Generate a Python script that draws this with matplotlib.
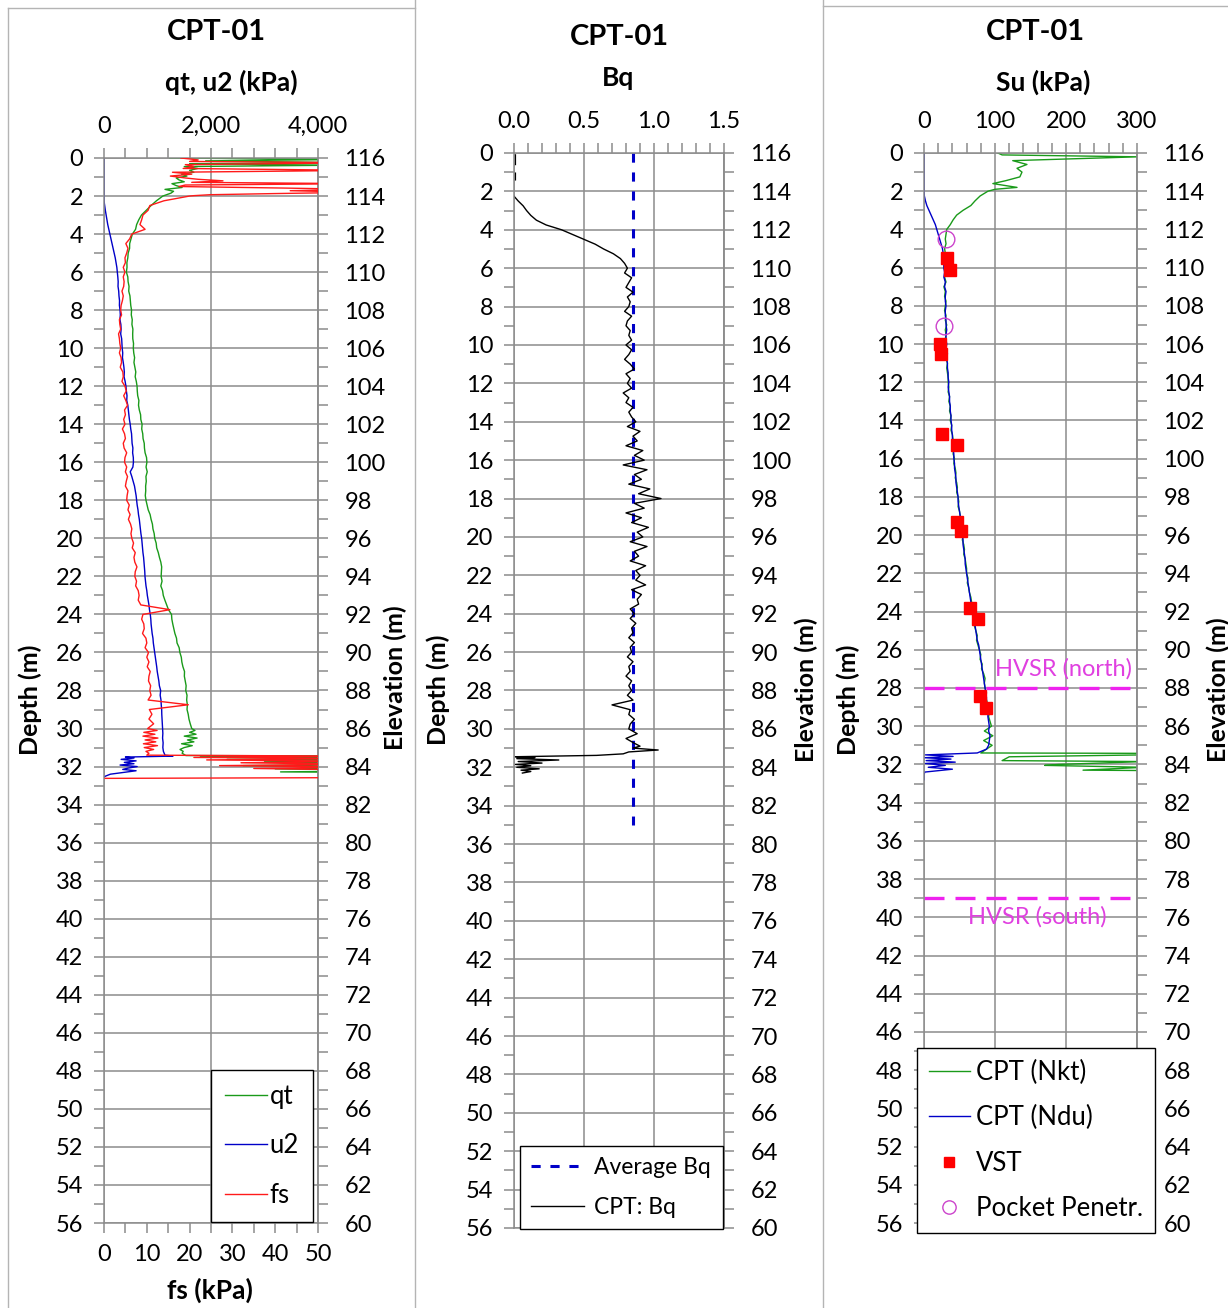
import numpy as np
import matplotlib
matplotlib.use("Agg")
import matplotlib.pyplot as plt
from matplotlib.ticker import MultipleLocator, FuncFormatter
from matplotlib.lines import Line2D

plt.rcParams['font.family'] = ['Lato', 'DejaVu Sans']

W, H = 1228, 1308
GRID = '#8c8c8c'
GREEN = '#1a9a1a'
BLUE = '#0000c8'
RED = '#ff1a1a'
MAGENTA = '#ee22ee'

# ---------------------------------------------------------------- data
# regular 0.25 m logging interval used for the body of every profile (2.0-29.75 m)
grid_depth = [round(2.0 + 0.25 * i, 2) for i in range(112)]

# cone resistance qt (kPa)
qt_top_depth = [0.0, 0.08, 0.15, 0.25, 0.3, 0.38, 0.45, 0.55, 0.65, 0.75, 0.85,
                0.95, 1.05, 1.15, 1.25, 1.35, 1.45, 1.55, 1.65, 1.75, 1.85, 1.95]
qt_top = [1230, 4500, 1900, 4600, 1600, 4300, 1500, 1750, 1600, 1680, 1450,
          1550, 1350, 1400, 1500, 1270, 1350, 1460, 1140, 1300, 1250, 1150]
qt_main = [1100, 980, 880, 790, 700, 650, 610, 590,
           530, 505, 480, 478, 452, 445, 428, 430,
           418, 445, 450, 468, 462, 485, 492, 500,
           515, 510, 528, 522, 540, 536, 538, 552,
           548, 556, 572, 560, 578, 594, 583, 604,
           618, 622, 630, 652, 645, 660, 684, 688,
           712, 705, 724, 730, 752, 756, 768, 795,
           802, 786, 808, 784, 790, 778, 780, 772,
           785, 805, 826, 862, 880, 905, 915, 938,
           948, 975, 985, 1015, 1036, 1062, 1078, 1072,
           1068, 1085, 1062, 1095, 1108, 1138, 1172, 1205,
           1262, 1268, 1285, 1305, 1325, 1355, 1365, 1405,
           1418, 1445, 1455, 1475, 1505, 1502, 1518, 1535,
           1528, 1552, 1545, 1558, 1552, 1574, 1588, 1612]
qt_tail_depth = [30.0, 30.1, 30.2, 30.3, 30.4, 30.5, 30.6, 30.7, 30.8, 30.9, 31.0,
                 31.1, 31.2, 31.3, 31.42, 31.45, 31.5, 31.55, 31.62, 31.68, 31.75,
                 31.85, 31.95, 32.05, 32.12, 32.2, 32.28, 32.32]
qt_tail = [1640, 1700, 1600, 1720, 1500, 1740, 1560, 1680, 1450, 1650, 1500,
           1420, 1480, 1460, 1530, 6000, 1800, 6000, 2300, 6000, 3000,
           6000, 2600, 6000, 3200, 6000, 3300, 6000]

# pore pressure u2 (kPa)
u2_top_depth = [0.0, 1.95]
u2_top = [0, 0]
u2_main = [0, 0, 12, 25, 40, 55, 70, 90,
           110, 130, 150, 170, 190, 210, 225, 240,
           250, 258, 265, 262, 275, 280, 290, 288,
           300, 305, 298, 315, 320, 312, 330, 335,
           340, 350, 345, 360, 372, 380, 375, 395,
           410, 418, 430, 425, 445, 455, 465, 475,
           490, 500, 515, 520, 525, 540, 535, 548,
           550, 540, 490, 520, 545, 570, 585, 600,
           610, 620, 635, 645, 660, 670, 680, 690,
           704, 712, 720, 728, 740, 748, 755, 762,
           766, 775, 785, 800, 810, 825, 840, 850,
           865, 875, 880, 890, 900, 915, 922, 935,
           950, 960, 975, 985, 995, 1010, 1025, 1035,
           1059, 1050, 1065, 1070, 1078, 1080, 1085, 1090]
u2_tail_depth = [30.0, 30.25, 30.5, 30.75, 31.0, 31.2, 31.4, 31.45, 31.5, 31.55,
                 31.62, 31.7, 31.78, 31.85, 31.92, 32.0, 32.08, 32.15, 32.22,
                 32.3, 32.4, 32.5, 32.55]
u2_tail = [1096, 1100, 1095, 1105, 1100, 1110, 1140, 1290, 400, 560,
           320, 600, 380, 560, 300, 620, 450, 350, 600,
           380, 120, 30, 0]

# sleeve friction fs (kPa)
fs_top_depth = [0.0, 0.1, 0.18, 0.25, 0.35, 0.45, 0.55, 0.65, 0.75, 0.85, 0.95,
                1.05, 1.12, 1.2, 1.28, 1.35, 1.42, 1.5, 1.58, 1.65, 1.72, 1.8,
                1.87, 1.93, 1.98]
fs_top = [18, 22, 20, 60, 19, 21, 18.5, 60, 16, 20.5, 15.5,
          19, 22, 27.8, 20.5, 60, 19, 17.5, 41.8, 60, 43.5, 60,
          40, 24.8, 21]
fs_main = [20, 14, 10.7, 10.3, 9.1, 8.8, 8.4, 9.6,
           6.5, 6.0, 5.1, 5.6, 5.3, 4.9, 5.0, 4.5,
           4.9, 4.5, 4.7, 4.6, 4.2, 4.5, 4.3, 4.0,
           3.9, 4.1, 3.6, 3.7, 3.9, 3.4, 3.6, 3.7,
           3.9, 3.6, 4.0, 4.1, 3.8, 4.4, 4.5, 4.2,
           4.9, 5.2, 4.6, 5.1, 5.5, 4.8, 5.0, 4.6,
           4.9, 4.3, 4.8, 5.0, 4.5, 4.7, 5.3, 4.9,
           4.8, 5.3, 5.0, 5.5, 5.2, 5.0, 5.6, 5.4,
           5.3, 5.9, 5.6, 6.1, 5.7, 6.2, 6.5, 6.3,
           6.5, 6.9, 6.6, 7.3, 7.0, 7.2, 7.7, 7.3,
           7.2, 7.6, 7.4, 8.0, 8.2, 8.0, 8.6, 15.4,
           9.1, 8.8, 9.3, 9.4, 9.0, 9.8, 10.0, 9.6,
           10.4, 10.0, 10.5, 10.1, 10.8, 10.5, 10.4, 10.9,
           10.7, 11.0, 10.3, 19.7, 10.6, 11.2, 10.5, 11.6]
fs_tail_depth = [30.0, 30.1, 30.2, 30.3, 30.4, 30.5, 30.6, 30.7, 30.8, 30.9, 31.0,
                 31.1, 31.2, 31.3, 31.4, 31.45, 31.52, 31.58, 31.65, 31.72, 31.8,
                 31.88, 31.95, 32.02, 32.1, 32.18, 32.25, 32.58, 32.62]
fs_tail = [10.2, 12.4, 9.3, 11.9, 9.1, 12.6, 9.6, 12.1, 9.2, 12.5, 9.4,
           11.6, 9.8, 10.5, 10.0, 60, 21, 60, 24, 60, 32,
           60, 27, 60, 35, 60, 60, 60, 0.3]

# pore pressure ratio Bq (-)
bq_top_depth = [0.1, 0.6, 0.8, 1.05, 1.4, 1.7]
bq_top = [0.01, 0.01, np.nan, 0.01, 0.01, np.nan]
bq_main = [np.nan, 0.0, 0.03, 0.065, 0.09, 0.12, 0.16, 0.23,
           0.34, 0.42, 0.50, 0.58, 0.64, 0.71, 0.76, 0.79,
           0.81, 0.79, 0.84, 0.82, 0.80, 0.85, 0.81, 0.83,
           0.82, 0.79, 0.84, 0.81, 0.80, 0.83, 0.82, 0.84,
           0.80, 0.84, 0.82, 0.79, 0.83, 0.86, 0.80, 0.83,
           0.81, 0.84, 0.78, 0.82, 0.80, 0.85, 0.82, 0.84,
           0.87, 0.81, 0.90, 0.85, 0.88, 0.80, 0.92, 0.86,
           0.93, 0.78, 0.95, 0.86, 0.91, 0.82, 0.97, 0.89,
           1.05, 0.86, 0.93, 0.80, 0.91, 0.84, 0.96, 0.88,
           0.92, 0.83, 0.95, 0.86, 0.89, 0.83, 0.94, 0.87,
           0.90, 0.87, 0.94, 0.84, 0.91, 0.88, 0.89, 0.83,
           0.86, 0.83, 0.87, 0.84, 0.85, 0.82, 0.86, 0.83,
           0.84, 0.81, 0.85, 0.82, 0.83, 0.80, 0.84, 0.82,
           0.84, 0.81, 0.85, 0.70, 0.83, 0.82, 0.86, 0.83]
bq_tail_depth = [30.0, 30.25, 30.5, 30.75, 30.9, 31.0, 31.1, 31.2, 31.3, 31.38,
                 31.45, 31.5, 31.55, 31.62, 31.7, 31.78, 31.85, 31.92, 32.0,
                 32.08, 32.15, 32.22, 32.3]
bq_tail = [0.82, 0.88, 0.80, 0.86, 0.90, 0.85, 1.03, 0.82, 0.78, 0.59,
           0.01, 0.15, 0.02, 0.32, 0.03, 0.20, 0.01, 0.12, 0.02,
           0.18, 0.05, 0.12, 0.06]
bq_average = 0.85
bq_average_depth = [0.0, 35.0]

# undrained shear strength Su (kPa) from qt (Nkt) and from u2 (Ndu)
nkt_top_depth = [0.0, 0.1, 0.2, 0.4, 0.6, 0.8, 1.0, 1.25, 1.45, 1.6, 1.8, 1.9]
nkt_top = [104, 110, 301, 125, 145, 131, 138, 135, 115, 97, 131, 100]
nkt_main = [90, 79, 72, 66, 55, 46, 41, 37,
            32, 31, 30, 31, 29, 30, 28, 29,
            28, 30, 29, 31, 28, 30, 29, 31,
            30, 29, 31, 30, 32, 30, 31, 30,
            31, 30, 32, 31, 33, 32, 33, 34,
            34, 35, 34, 36, 35, 37, 36, 38,
            37, 39, 38, 40, 41, 40, 42, 41,
            43, 42, 44, 45, 44, 46, 47, 46,
            48, 49, 48, 50, 51, 52, 51, 53,
            55, 54, 56, 57, 56, 58, 59, 60,
            60, 62, 61, 63, 64, 66, 67, 68,
            69, 70, 72, 71, 73, 75, 74, 76,
            78, 80, 79, 82, 81, 84, 86, 85,
            86, 88, 87, 89, 90, 92, 91, 93]
nkt_tail_depth = [30.0, 30.25, 30.5, 30.75, 31.0, 31.2, 31.4, 31.42, 31.5, 31.6,
                  31.8, 31.85, 32.0, 32.05, 32.15, 32.3, 32.32]
nkt_tail = [95, 85, 97, 84, 96, 88, 80, 310, 310, 120,
            110, 310, 190, 170, 310, 224, 310]

ndu_top_depth = [0.0, 1.95]
ndu_top = [0, 0]
ndu_main = [0, 0.5, 2, 4, 7, 10, 13, 16,
            18, 20, 22, 24, 26, 27, 28, 28,
            28, 29, 28, 30, 29, 31, 30, 30,
            31, 30, 30, 31, 31, 32, 31, 31,
            32, 31, 33, 32, 33, 33, 34, 34,
            35, 34, 35, 36, 36, 37, 37, 38,
            38, 39, 39, 40, 40, 41, 41, 42,
            42, 43, 43, 44, 45, 45, 46, 47,
            48, 48, 49, 50, 51, 51, 52, 53,
            54, 55, 55, 56, 57, 58, 58, 59,
            60, 61, 62, 63, 64, 65, 66, 67,
            68, 69, 71, 72, 73, 74, 75, 77,
            78, 79, 80, 81, 82, 83, 84, 85,
            86, 87, 88, 88, 89, 90, 90, 91]
ndu_tail_depth = [30.0, 30.25, 30.5, 30.75, 31.0, 31.2, 31.4, 31.5, 31.58, 31.65,
                  31.72, 31.8, 31.88, 31.95, 32.05, 32.15, 32.25, 32.4, 32.55, 32.8]
ndu_tail = [92, 91, 93, 92, 91, 88, 75, 2, 41, 1,
            38, 3, 44, 2, 30, 6, 40, 1, 0, 0]

# field vane and pocket penetrometer tests
vst_depth = [5.5, 6.1, 10.0, 10.5, 14.7, 15.3, 19.3, 19.8, 23.8, 24.4, 28.4, 29.05]
vst_su = [32, 37, 22, 24, 25, 46, 46, 52, 65, 76, 79, 87]
pp_depth = [4.5, 9.05]
pp_su = [31, 28]

# HVSR-inferred interfaces (depth, m)
hvsr_depths = [28.0, 39.0]
hvsr_labels = ['HVSR (north)', 'HVSR (south)']

GROUND_ELEV = 116.0


def profile(top_d, top_v, main_v, tail_d, tail_v):
    d = list(top_d) + grid_depth + list(tail_d)
    v = list(top_v) + list(main_v) + list(tail_v)
    assert len(d) == len(v)
    return np.array(d, float), np.array(v, float)


# ---------------------------------------------------------------- figure
fig = plt.figure(figsize=(W / 100, H / 100), dpi=100)


def fx(x):
    return x / W


def fy(y):
    return 1 - y / H


def rect(x0, x1, y0, y1):
    return [fx(x0), fy(y1), (x1 - x0) / W, (y1 - y0) / H]


TICK_FS = 17


def style_depth_axes(ax, xlim, major, minor, fmt):
    ax.set_ylim(56, 0)
    ax.set_xlim(*xlim)
    ax.xaxis.tick_top()
    ax.xaxis.set_major_locator(MultipleLocator(major))
    ax.xaxis.set_minor_locator(MultipleLocator(minor))
    ax.xaxis.set_major_formatter(FuncFormatter(fmt))
    ax.yaxis.set_major_locator(MultipleLocator(2))
    ax.yaxis.set_minor_locator(MultipleLocator(1))
    ax.grid(True, which='major', color=GRID, lw=1.1)
    ax.set_axisbelow(True)
    for sp in ax.spines.values():
        sp.set_color(GRID)
        sp.set_linewidth(1.1)
    ax.tick_params(which='both', direction='out', length=7, width=1.1,
                   color=GRID, labelsize=TICK_FS, pad=8)
    ax.tick_params(axis='y', which='both', left=True, right=False)
    ax.tick_params(axis='x', which='both', top=True, bottom=False)
    sec = ax.secondary_yaxis('right', functions=(lambda d: GROUND_ELEV - d,
                                                 lambda e: GROUND_ELEV - e))
    sec.yaxis.set_major_locator(MultipleLocator(2))
    sec.yaxis.set_minor_locator(MultipleLocator(1))
    sec.spines['right'].set_color(GRID)
    sec.spines['right'].set_linewidth(1.1)
    sec.tick_params(which='both', direction='out', length=7, width=1.1,
                    color=GRID, labelsize=TICK_FS, pad=12)
    return sec


# panel frames
frame_kw = dict(color='#b4b4b4', lw=1.0, transform=fig.transFigure)
fig.add_artist(Line2D([fx(8), fx(8)], [fy(8), 0], **frame_kw))
fig.add_artist(Line2D([fx(8), fx(415)], [fy(8), fy(8)], **frame_kw))
fig.add_artist(Line2D([fx(415), fx(415)], [1, 0], **frame_kw))
fig.add_artist(Line2D([fx(823), fx(823)], [1, 0], **frame_kw))
fig.add_artist(Line2D([fx(823), fx(1228)], [fy(6), fy(6)], **frame_kw))

TITLE_FS = 21
SUB_FS = 19
LAB_FS = 18

# ---------------- panel 1: qt, u2, fs
ax1 = fig.add_axes(rect(104, 318, 158, 1223))
axf = ax1.twiny()
style_depth_axes(ax1, (0, 4000), 2000, 400, lambda v, p: f"{v:,.0f}")
axf.set_xlim(0, 50)
axf.xaxis.tick_bottom()
axf.xaxis.set_major_locator(MultipleLocator(10))
axf.xaxis.set_minor_locator(MultipleLocator(5))
axf.tick_params(axis='x', which='both', direction='out', length=7, width=1.1,
                color=GRID, labelsize=TICK_FS, pad=8, top=False, bottom=True)
for sp in axf.spines.values():
    sp.set_visible(False)

d_qt, v_qt = profile(qt_top_depth, qt_top, qt_main, qt_tail_depth, qt_tail)
d_u2, v_u2 = profile(u2_top_depth, u2_top, u2_main, u2_tail_depth, u2_tail)
d_fs, v_fs = profile(fs_top_depth, fs_top, fs_main, fs_tail_depth, fs_tail)
l_qt, = ax1.plot(v_qt, d_qt, color=GREEN, lw=1.0, label='qt')
l_u2, = ax1.plot(v_u2, d_u2, color=BLUE, lw=1.0, label='u2')
l_fs, = axf.plot(v_fs, d_fs, color=RED, lw=1.0, label='fs')

leg1 = axf.legend(handles=[l_qt, l_u2, l_fs], loc='lower right',
                  bbox_to_anchor=(fx(313), fy(1222)), bbox_transform=fig.transFigure,
                  fontsize=18.5, frameon=True, fancybox=False, framealpha=1,
                  edgecolor='black', handlelength=1.65, handletextpad=0.1,
                  labelspacing=0.95, borderpad=0.55, borderaxespad=0)
leg1.get_frame().set_linewidth(1.0)

fig.text(fx(216), fy(32), 'CPT-01', ha='center', va='center', fontsize=TITLE_FS, weight='bold')
fig.text(fx(231), fy(82), 'qt, u2 (kPa)', ha='center', va='center', fontsize=SUB_FS, weight='bold')
fig.text(fx(210), fy(1290), 'fs (kPa)', ha='center', va='center', fontsize=SUB_FS, weight='bold')
fig.text(fx(30), fy(700), 'Depth (m)', ha='center', va='center', rotation=90,
         fontsize=LAB_FS, weight='bold')
fig.text(fx(395), fy(678), 'Elevation (m)', ha='center', va='center', rotation=90,
         fontsize=LAB_FS, weight='bold')

# ---------------- panel 2: Bq
ax2 = fig.add_axes(rect(514, 724, 153, 1228))
style_depth_axes(ax2, (0, 1.5), 0.5, 0.1, lambda v, p: f"{v:.1f}")
d_bq, v_bq = profile(bq_top_depth, bq_top, bq_main, bq_tail_depth, bq_tail)
l_avg, = ax2.plot([bq_average, bq_average], bq_average_depth, color=BLUE, lw=2.2,
                  dashes=(3, 3.2), label='Average Bq')
l_bq, = ax2.plot(v_bq, d_bq, color='black', lw=1.0, label='CPT: Bq')
leg2 = ax2.legend(handles=[l_avg, l_bq], loc='lower left',
                  bbox_to_anchor=(fx(520), fy(1229)), bbox_transform=fig.transFigure,
                  fontsize=16.5, frameon=True, fancybox=False, framealpha=1,
                  edgecolor='black', handlelength=2.3, handletextpad=0.45,
                  labelspacing=0.8, borderpad=0.5, borderaxespad=0)
leg2.get_frame().set_linewidth(1.0)

fig.text(fx(619), fy(37), 'CPT-01', ha='center', va='center', fontsize=TITLE_FS, weight='bold')
fig.text(fx(618), fy(78), 'Bq', ha='center', va='center', fontsize=SUB_FS, weight='bold')
fig.text(fx(438), fy(690), 'Depth (m)', ha='center', va='center', rotation=90,
         fontsize=LAB_FS, weight='bold')
fig.text(fx(806), fy(690), 'Elevation (m)', ha='center', va='center', rotation=90,
         fontsize=LAB_FS, weight='bold')

# ---------------- panel 3: Su
ax3 = fig.add_axes(rect(924, 1137, 153, 1223))
style_depth_axes(ax3, (0, 300), 100, 20, lambda v, p: f"{v:.0f}")
d_nkt, v_nkt = profile(nkt_top_depth, nkt_top, nkt_main, nkt_tail_depth, nkt_tail)
d_ndu, v_ndu = profile(ndu_top_depth, ndu_top, ndu_main, ndu_tail_depth, ndu_tail)
l_nkt, = ax3.plot(v_nkt, d_nkt, color=GREEN, lw=1.0, label='CPT (Nkt)')
l_ndu, = ax3.plot(v_ndu, d_ndu, color=BLUE, lw=1.0, label='CPT (Ndu)')
l_vst, = ax3.plot(vst_su, vst_depth, ls='none', marker='s', ms=9, color='#ff0000',
                  mec='#ff0000', label='VST')
l_pp, = ax3.plot(pp_su, pp_depth, ls='none', marker='o', ms=12, mfc='none',
                 mec='#cc44cc', mew=1.0, label='Pocket Penetr.')
for hd, txt, (tx, dy) in zip(hvsr_depths, hvsr_labels, [(197, -1.0), (160, 1.0)]):
    ax3.plot([0, 290], [hd, hd], color=MAGENTA, lw=2.4, dashes=(6, 3.3))
    ax3.text(tx, hd + dy, txt, color='#e040e0', fontsize=17,
             ha='center', va='center')
leg3 = ax3.legend(handles=[l_nkt, l_ndu, l_vst, l_pp], loc='lower left',
                  bbox_to_anchor=(fx(917), fy(1233)), bbox_transform=fig.transFigure,
                  fontsize=18.5, frameon=True, fancybox=False, framealpha=1,
                  edgecolor='black', handlelength=1.6, handletextpad=0.25,
                  labelspacing=0.8, borderpad=0.45, borderaxespad=0, markerscale=0.8)
leg3.get_frame().set_linewidth(1.0)

fig.text(fx(1035), fy(32), 'CPT-01', ha='center', va='center', fontsize=TITLE_FS, weight='bold')
fig.text(fx(1043), fy(82), 'Su (kPa)', ha='center', va='center', fontsize=SUB_FS, weight='bold')
fig.text(fx(848), fy(700), 'Depth (m)', ha='center', va='center', rotation=90,
         fontsize=LAB_FS, weight='bold')
fig.text(fx(1218), fy(690), 'Elevation (m)', ha='center', va='center', rotation=90,
         fontsize=LAB_FS, weight='bold')

fig.savefig('out.png', dpi=100)
